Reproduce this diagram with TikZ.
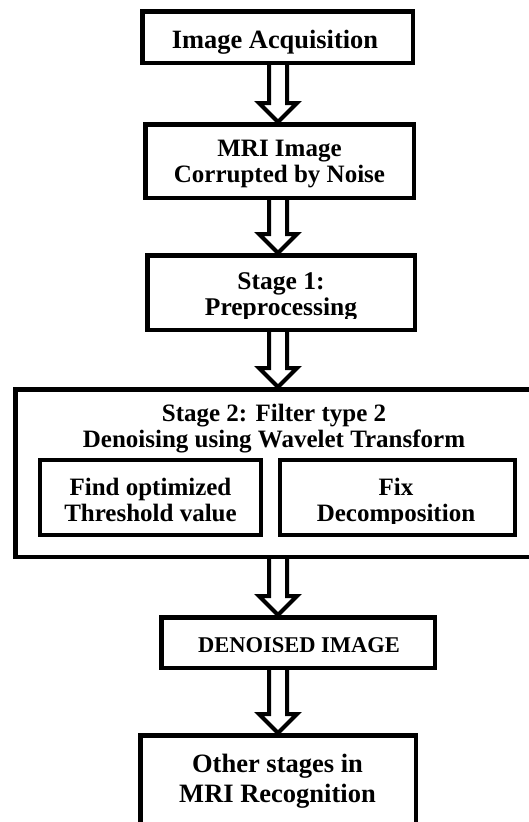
\documentclass[tikz,border=0pt]{standalone}
\usepackage{fontspec}
\setmainfont{Liberation Serif}
\usetikzlibrary{calc}

\begin{document}
\begin{tikzpicture}[x=1pt, y=-1pt]
  \tikzstyle{box} = [rectangle, draw=black, line width=4.5pt, fill=white, inner sep=0pt]
  \tikzstyle{subbox} = [rectangle, draw=black, line width=4pt, fill=white, inner sep=0pt]
  \tikzstyle{txt} = [align=center, inner sep=0pt, font=\bfseries\fontsize{25}{26}\selectfont]
  \tikzstyle{hollow} = [draw=black, fill=white, line width=4pt, line join=miter]

  \clip (0,0) rectangle (529,822);

  % Row boxes
  \node [box, minimum width=270.5pt, minimum height=51.5pt] (acq) at (277.5, 37) {};
  \node [box, minimum width=268.5pt, minimum height=73.5pt] (noisy) at (279.5, 161) {};
  \node [box, minimum width=267.5pt, minimum height=74.5pt] (pre) at (281, 292.5) {};
  \node [box, minimum width=523.5pt, minimum height=167.5pt] (filt) at (277, 473) {};
  \node [subbox, minimum width=220.5pt, minimum height=75pt] (thr) at (150.5, 497.5) {};
  \node [subbox, minimum width=234.5pt, minimum height=75pt] (dec) at (397.5, 497.5) {};
  \node [box, minimum width=273.5pt, minimum height=50.5pt] (den) at (298, 642.5) {};
  \node [box, minimum width=275.5pt, minimum height=89.5pt] (oth) at (278, 780) {};

  % Texts
  \node [txt, anchor=base, font=\bfseries\fontsize{26.4}{28}\selectfont] (acq-t) at (275, 48) {Image Acquisition};
  \node [txt] (noisy-t) at (279.5, 164) {MRI Image\\Corrupted by Noise};
  \begin{scope}
    \clip (147, 255) rectangle (415, 318);
    \node [txt, font=\bfseries\fontsize{25.5}{26}\selectfont] (pre-t) at (281, 297) {Stage 1:\\Preprocessing};
  \end{scope}
  \node [txt] (filt-t) at (274, 429) {Stage 2: Filter type 2\\Denoising using Wavelet Transform};
  \begin{scope}
    \clip (40, 460) rectangle (261, 523);
    \node [txt] (thr-t) at (150.5, 499.5) {Find optimized\\Threshold value};
  \end{scope}
  \begin{scope}
    \clip (280, 460) rectangle (515, 523);
    \node [txt] (dec-t) at (396, 502.5) {Fix\\Decomposition};
  \end{scope}
  \node [txt, anchor=base, font=\bfseries\fontsize{22.5}{26}\selectfont] (den-t) at (299, 652) {DENOISED IMAGE};
  \node [txt, font=\bfseries\fontsize{26.5}{30}\selectfont] (oth-t) at (277.5, 781) {Other stages in\\MRI Recognition};

  % Hollow arrows
  \coordinate (mid) at (278, 0);
  \foreach \a/\b in {acq/noisy, noisy/pre, pre/filt, filt/den, den/oth}
    \draw[hollow] ($(\a.south -| mid)+(-9,0)$) -- ($(\b.north -| mid)+(-9,-19)$) -- ($(\b.north -| mid)+(-19,-19)$) -- (\b.north -| mid) -- ($(\b.north -| mid)+(19,-19)$) -- ($(\b.north -| mid)+(9,-19)$) -- ($(\a.south -| mid)+(9,0)$);
\end{tikzpicture}
\end{document}
